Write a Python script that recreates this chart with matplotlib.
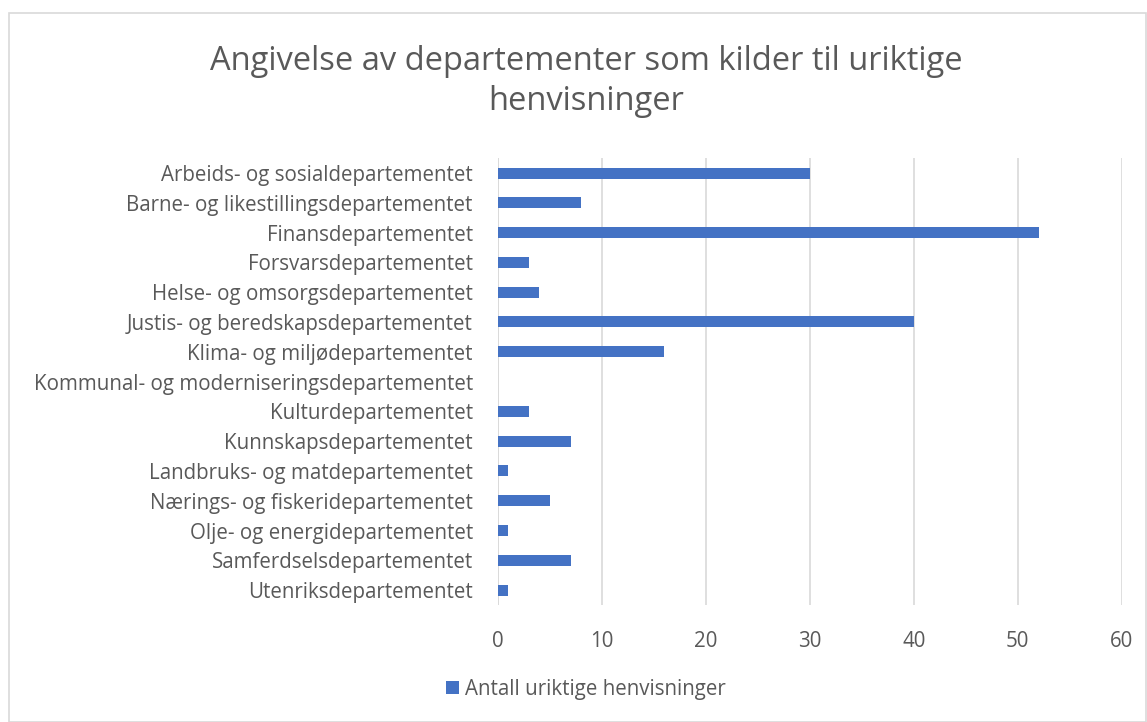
import numpy as np
import matplotlib.pyplot as plt
from matplotlib.patches import Rectangle

# Data
departementer = [
    'Arbeids- og sosialdepartementet',
    'Barne- og likestillingsdepartementet',
    'Finansdepartementet',
    'Forsvarsdepartementet',
    'Helse- og omsorgsdepartementet',
    'Justis- og beredskapsdepartementet',
    'Klima- og miljødepartementet',
    'Kommunal- og moderniseringsdepartementet',
    'Kulturdepartementet',
    'Kunnskapsdepartementet',
    'Landbruks- og matdepartementet',
    'Nærings- og fiskeridepartementet',
    'Olje- og energidepartementet',
    'Samferdselsdepartementet',
    'Utenriksdepartementet',
]
antall = [30, 8, 52, 3, 4, 40, 16, 0, 3, 7, 1, 5, 1, 7, 1]
xticks = [0, 10, 20, 30, 40, 50, 60]

plt.rcParams['font.family'] = ['Open Sans', 'DejaVu Sans']
grey = '#595959'
blue = '#4472C4'

fig = plt.figure(figsize=(11.47, 7.22), dpi=100)
ax = fig.add_axes([0.434, 0.162, 0.544, 0.619])

y = np.arange(len(departementer))
ax.barh(y, antall, height=0.37, color=blue, label='Antall uriktige henvisninger', zorder=3)
ax.set_ylim(len(departementer) - 0.5, -0.5)
ax.set_xlim(0, 60)
ax.set_xticks(xticks)
ax.set_yticks(y)
ax.set_yticklabels(departementer)
ax.tick_params(axis='y', length=0, pad=18, labelsize=14.8, labelcolor=grey)
ax.tick_params(axis='x', length=0, pad=19, labelsize=14.8, labelcolor=grey)
ax.grid(axis='x', color='#d9d9d9', linewidth=1.2, zorder=0)
for s in ax.spines.values():
    s.set_visible(False)
ax.axvline(0, color='#d9d9d9', linewidth=1.2, zorder=1)

fig.text(0.511, 0.887, 'Angivelse av departementer som kilder til uriktige\nhenvisninger',
         ha='center', va='center', fontsize=23.5, color=grey, linespacing=1.3)

fig.legend(loc='center', bbox_to_anchor=(0.511, 0.045), frameon=False, fontsize=14.8,
           labelcolor=grey, handlelength=0.6, handleheight=0.6, handletextpad=0.3)

fig.patches.append(Rectangle((9 / 1147, 0), 1 - 9 / 1147 - 0.0005, 1 - 13 / 722,
                             transform=fig.transFigure, fill=False,
                             edgecolor='#d9d9d9', linewidth=1.2))

fig.savefig('out.png', dpi=100)
